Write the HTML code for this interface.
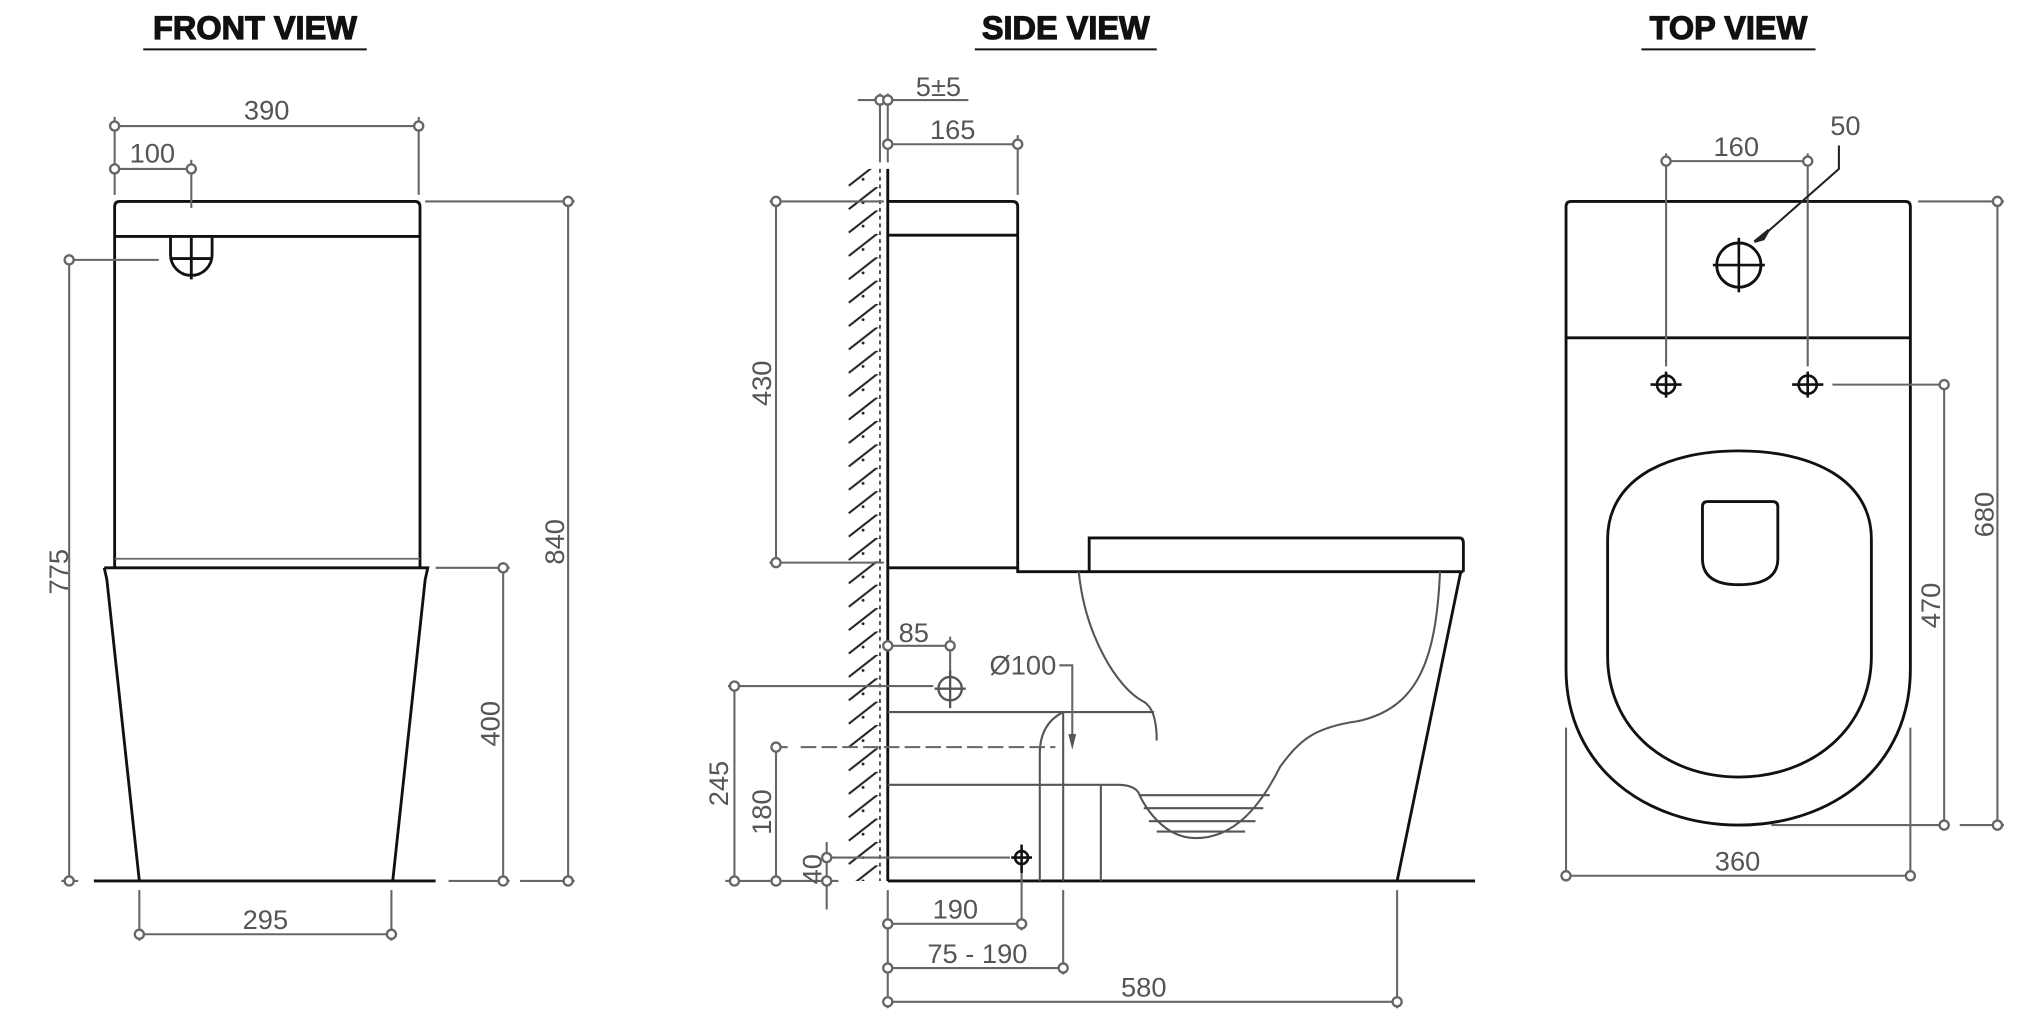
<!DOCTYPE html>
<html><head><meta charset="utf-8"><style>
html,body{margin:0;padding:0;background:#fff}
svg{display:block}
text{font-family:"Liberation Sans",Arial,sans-serif}
.t{font-size:25px;font-weight:bold;fill:#111;stroke:#111;stroke-width:0.9}
.d{font-size:21px;fill:#555}
.k{fill:none;stroke:#111;stroke-width:2.2}
.g{fill:none;stroke:#666;stroke-width:1.6}
.m{fill:#fff;stroke:#666;stroke-width:1.8}
</style></head><body>
<svg width="2038" height="1020" viewBox="0 0 1568 785" xmlns="http://www.w3.org/2000/svg">
<defs>
<pattern id="h" patternUnits="userSpaceOnUse" x="650" y="0" width="30" height="18">
<path d="M3,17 L26,-1" stroke="#222" stroke-width="1.6"/>
<circle cx="14" cy="12" r="1.1" fill="#222"/>
</pattern>
</defs>

<!-- Titles -->
<text class="t" x="196" y="30" text-anchor="middle">FRONT VIEW</text>
<line x1="110" y1="38" x2="282" y2="38" stroke="#111" stroke-width="1.6"/>
<text class="t" x="820" y="30" text-anchor="middle">SIDE VIEW</text>
<line x1="750" y1="38" x2="890" y2="38" stroke="#111" stroke-width="1.6"/>
<text class="t" x="1330" y="30" text-anchor="middle">TOP VIEW</text>
<line x1="1263" y1="38" x2="1397" y2="38" stroke="#111" stroke-width="1.6"/>

<!-- ===== FRONT VIEW ===== -->
<path class="k" d="M88,437 L88,159 Q88,155 92,155 L319,155 Q323,155 323,159 L323,437"/>
<line class="k" x1="88" y1="182" x2="323" y2="182"/>
<line x1="88" y1="430" x2="323" y2="430" stroke="#666" stroke-width="1.4"/>
<path class="k" d="M80,437 L329,437 L327,446 L302,678 M80,437 L82,446 L107,678"/>
<line class="k" x1="72" y1="678" x2="335" y2="678"/>
<path class="k" d="M131,183 L131,196 A16,16 0 0 0 163,196 L163,183"/>
<line class="k" x1="147" y1="183" x2="147" y2="215"/>
<line class="k" x1="131" y1="199" x2="163" y2="199"/>
<g class="g">
<line x1="88" y1="97" x2="322" y2="97"/><line x1="88" y1="90" x2="88" y2="130"/><line x1="322" y1="90" x2="322" y2="150"/>
<line x1="88" y1="130" x2="147" y2="130"/><line x1="88" y1="130" x2="88" y2="150"/><line x1="147" y1="123" x2="147" y2="160"/>
<line x1="53" y1="200" x2="122" y2="200"/><line x1="53" y1="200" x2="53" y2="678"/>
<line x1="327" y1="155" x2="442" y2="155"/><line x1="437" y1="155" x2="437" y2="678"/>
<line x1="335" y1="437" x2="392" y2="437"/><line x1="387" y1="437" x2="387" y2="678"/>
<line x1="47" y1="678" x2="60" y2="678"/><line x1="345" y1="678" x2="392" y2="678"/><line x1="400" y1="678" x2="442" y2="678"/>
<line x1="107" y1="685" x2="107" y2="724"/><line x1="301" y1="685" x2="301" y2="724"/><line x1="107" y1="719" x2="301" y2="719"/>
</g>
<g class="m">
<circle cx="88" cy="97" r="3.5"/><circle cx="322" cy="97" r="3.5"/><circle cx="88" cy="130" r="3.5"/><circle cx="147" cy="130" r="3.5"/>
<circle cx="53" cy="200" r="3.5"/><circle cx="53" cy="678" r="3.5"/><circle cx="437" cy="155" r="3.5"/><circle cx="437" cy="678" r="3.5"/>
<circle cx="387" cy="437" r="3.5"/><circle cx="387" cy="678" r="3.5"/><circle cx="107" cy="719" r="3.5"/><circle cx="301" cy="719" r="3.5"/>
</g>
<text class="d" x="205" y="92" text-anchor="middle">390</text>
<text class="d" x="117" y="125" text-anchor="middle">100</text>
<text class="d" x="204" y="715" text-anchor="middle">295</text>
<text class="d" transform="translate(52,440) rotate(-90)" text-anchor="middle">775</text>
<text class="d" transform="translate(434,417) rotate(-90)" text-anchor="middle">840</text>
<text class="d" transform="translate(384,557) rotate(-90)" text-anchor="middle">400</text>

<!-- ===== SIDE VIEW ===== -->
<rect x="650" y="130" width="27" height="548" fill="url(#h)"/>
<line x1="677" y1="130" x2="677" y2="678" stroke="#444" stroke-width="1.4" stroke-dasharray="3,3"/>
<line class="k" x1="683" y1="130" x2="683" y2="678"/>
<path class="k" d="M683,155 L779,155 Q783,155 783,159 L783,437 L683,437"/>
<line class="k" x1="683" y1="181" x2="783" y2="181"/>
<path class="k" d="M783,437 L783,440 L1126,440"/>
<path class="k" d="M838,440 L838,414 L1123,414 Q1126,414 1126,418 L1126,440"/>
<path class="k" d="M1124,440 L1075,678"/>
<line class="k" x1="683" y1="678" x2="1135" y2="678"/>
<g fill="none" stroke="#555" stroke-width="1.6">
<path d="M830,440 C835,490 860,530 880,540 Q890,546 890,570"/>
<path d="M1108,440 C1105,510 1090,545 1045,555 C1010,560 1000,570 985,590 C970,620 950,645 920,645 C895,645 880,620 876,610 Q872,604 860,604 L683,604"/>
<line x1="683" y1="548" x2="888" y2="548"/>
<path d="M818,548 C810,552 800,560 800,580 L800,678"/>
<line x1="818" y1="548" x2="818" y2="678"/>
<line x1="847" y1="604" x2="847" y2="678"/>
<line x1="877" y1="612" x2="977" y2="612"/><line x1="880" y1="622" x2="972" y2="622"/>
<line x1="884" y1="632" x2="966" y2="632"/><line x1="890" y1="640" x2="958" y2="640"/>
</g>
<g class="g">
<line x1="660" y1="77" x2="745" y2="77"/><line x1="677" y1="72" x2="677" y2="125"/><line x1="683" y1="72" x2="683" y2="125"/>
<line x1="683" y1="111" x2="783" y2="111"/><line x1="783" y1="104" x2="783" y2="150"/>
<line x1="592" y1="155" x2="680" y2="155"/><line x1="597" y1="155" x2="597" y2="433"/><line x1="592" y1="433" x2="680" y2="433"/>
<line x1="683" y1="497" x2="731" y2="497"/><line x1="731" y1="490" x2="731" y2="520"/>
<line x1="560" y1="528" x2="718" y2="528"/><line x1="565" y1="528" x2="565" y2="678"/>
<line x1="597" y1="575" x2="606" y2="575"/><line x1="616" y1="575" x2="812" y2="575" stroke-dasharray="12,4"/><line x1="597" y1="575" x2="597" y2="678"/>
<line x1="636" y1="660" x2="777" y2="660"/><line x1="636" y1="648" x2="636" y2="700"/>
<line x1="558" y1="678" x2="645" y2="678"/>
<line x1="683" y1="685" x2="683" y2="776"/><line x1="786" y1="672" x2="786" y2="716"/><line x1="818" y1="685" x2="818" y2="750"/><line x1="1075" y1="685" x2="1075" y2="776"/>
<line x1="683" y1="711" x2="786" y2="711"/><line x1="683" y1="745" x2="818" y2="745"/><line x1="683" y1="771" x2="1075" y2="771"/>
<path d="M815,512 L825,512 L825,572"/>
</g>
<path d="M822,565 L825,577 L828,565 Z" fill="#555"/>
<g class="m">
<circle cx="677" cy="77" r="3.5"/><circle cx="683" cy="77" r="3.5"/><circle cx="683" cy="111" r="3.5"/><circle cx="783" cy="111" r="3.5"/>
<circle cx="597" cy="155" r="3.5"/><circle cx="597" cy="433" r="3.5"/><circle cx="683" cy="497" r="3.5"/><circle cx="731" cy="497" r="3.5"/>
<circle cx="565" cy="528" r="3.5"/><circle cx="565" cy="678" r="3.5"/><circle cx="597" cy="575" r="3.5"/><circle cx="597" cy="678" r="3.5"/>
<circle cx="636" cy="660" r="3.5"/><circle cx="636" cy="678" r="3.5"/>
<circle cx="683" cy="711" r="3.5"/><circle cx="786" cy="711" r="3.5"/><circle cx="683" cy="745" r="3.5"/><circle cx="818" cy="745" r="3.5"/>
<circle cx="683" cy="771" r="3.5"/><circle cx="1075" cy="771" r="3.5"/>
</g>
<circle cx="731" cy="530" r="9" fill="none" stroke="#555" stroke-width="1.8"/>
<line x1="719" y1="530" x2="743" y2="530" stroke="#555" stroke-width="1.8"/><line x1="731" y1="516" x2="731" y2="545" stroke="#555" stroke-width="1.8"/>
<circle cx="786" cy="660" r="5" fill="none" stroke="#111" stroke-width="2"/>
<line x1="778" y1="660" x2="794" y2="660" stroke="#111" stroke-width="2"/><line x1="786" y1="650" x2="786" y2="672" stroke="#111" stroke-width="2"/>
<text class="d" x="722" y="74" text-anchor="middle">5±5</text>
<text class="d" x="733" y="107" text-anchor="middle">165</text>
<text class="d" x="703" y="494" text-anchor="middle">85</text>
<text class="d" x="787" y="519" text-anchor="middle">Ø100</text>
<text class="d" x="735" y="707" text-anchor="middle">190</text>
<text class="d" x="752" y="741" text-anchor="middle">75 - 190</text>
<text class="d" x="880" y="767" text-anchor="middle">580</text>
<text class="d" transform="translate(593,295) rotate(-90)" text-anchor="middle">430</text>
<text class="d" transform="translate(560,603) rotate(-90)" text-anchor="middle">245</text>
<text class="d" transform="translate(593,625) rotate(-90)" text-anchor="middle">180</text>
<text class="d" transform="translate(632,669) rotate(-90)" text-anchor="middle">40</text>

<!-- ===== TOP VIEW ===== -->
<path class="k" d="M1205,515 L1205,159 Q1205,155 1209,155 L1466,155 Q1470,155 1470,159 L1470,515 C1470,590 1410,635 1338,635 C1266,635 1205,590 1205,515"/>
<line class="k" x1="1205" y1="260" x2="1470" y2="260"/>
<path class="k" d="M1237,415 C1237,370 1280,347 1338,347 C1396,347 1440,370 1440,415 L1440,505 C1440,560 1395,598 1338,598 C1281,598 1237,560 1237,505 Z"/>
<path class="k" d="M1310,390 Q1310,386 1314,386 L1364,386 Q1368,386 1368,390 L1368,430 Q1368,450 1338,450 Q1310,450 1310,430 Z"/>
<circle cx="1338" cy="204" r="17" fill="none" stroke="#111" stroke-width="2.2"/>
<line x1="1318" y1="204" x2="1358" y2="204" stroke="#111" stroke-width="2"/><line x1="1338" y1="183" x2="1338" y2="225" stroke="#111" stroke-width="2"/>
<g stroke="#111" stroke-width="2" fill="none">
<circle cx="1282" cy="296" r="7"/><line x1="1270" y1="296" x2="1294" y2="296"/><line x1="1282" y1="286" x2="1282" y2="306"/>
<circle cx="1391" cy="296" r="7"/><line x1="1379" y1="296" x2="1403" y2="296"/><line x1="1391" y1="286" x2="1391" y2="306"/>
</g>
<g class="g">
<line x1="1282" y1="124" x2="1391" y2="124"/><line x1="1282" y1="118" x2="1282" y2="282"/><line x1="1391" y1="118" x2="1391" y2="282"/>
<path d="M1415,112 L1415,130 L1356,182" stroke="#222"/>
<line x1="1476" y1="155" x2="1542" y2="155"/><line x1="1537" y1="155" x2="1537" y2="635"/>
<line x1="1410" y1="296" x2="1500" y2="296"/><line x1="1496" y1="296" x2="1496" y2="635"/>
<line x1="1363" y1="635" x2="1500" y2="635"/><line x1="1508" y1="635" x2="1542" y2="635"/>
<line x1="1205" y1="560" x2="1205" y2="678"/><line x1="1470" y1="560" x2="1470" y2="678"/><line x1="1205" y1="674" x2="1470" y2="674"/>
</g>
<path d="M1350,186 L1361,177 L1357,184 Z" fill="#222" stroke="#222" stroke-width="2"/>
<g class="m">
<circle cx="1282" cy="124" r="3.5"/><circle cx="1391" cy="124" r="3.5"/><circle cx="1537" cy="155" r="3.5"/><circle cx="1537" cy="635" r="3.5"/>
<circle cx="1496" cy="296" r="3.5"/><circle cx="1496" cy="635" r="3.5"/><circle cx="1205" cy="674" r="3.5"/><circle cx="1470" cy="674" r="3.5"/>
</g>
<text class="d" x="1336" y="120" text-anchor="middle">160</text>
<text class="d" x="1420" y="104" text-anchor="middle">50</text>
<text class="d" x="1337" y="670" text-anchor="middle">360</text>
<text class="d" transform="translate(1534,396) rotate(-90)" text-anchor="middle">680</text>
<text class="d" transform="translate(1493,466) rotate(-90)" text-anchor="middle">470</text>
</svg>
</body></html>
